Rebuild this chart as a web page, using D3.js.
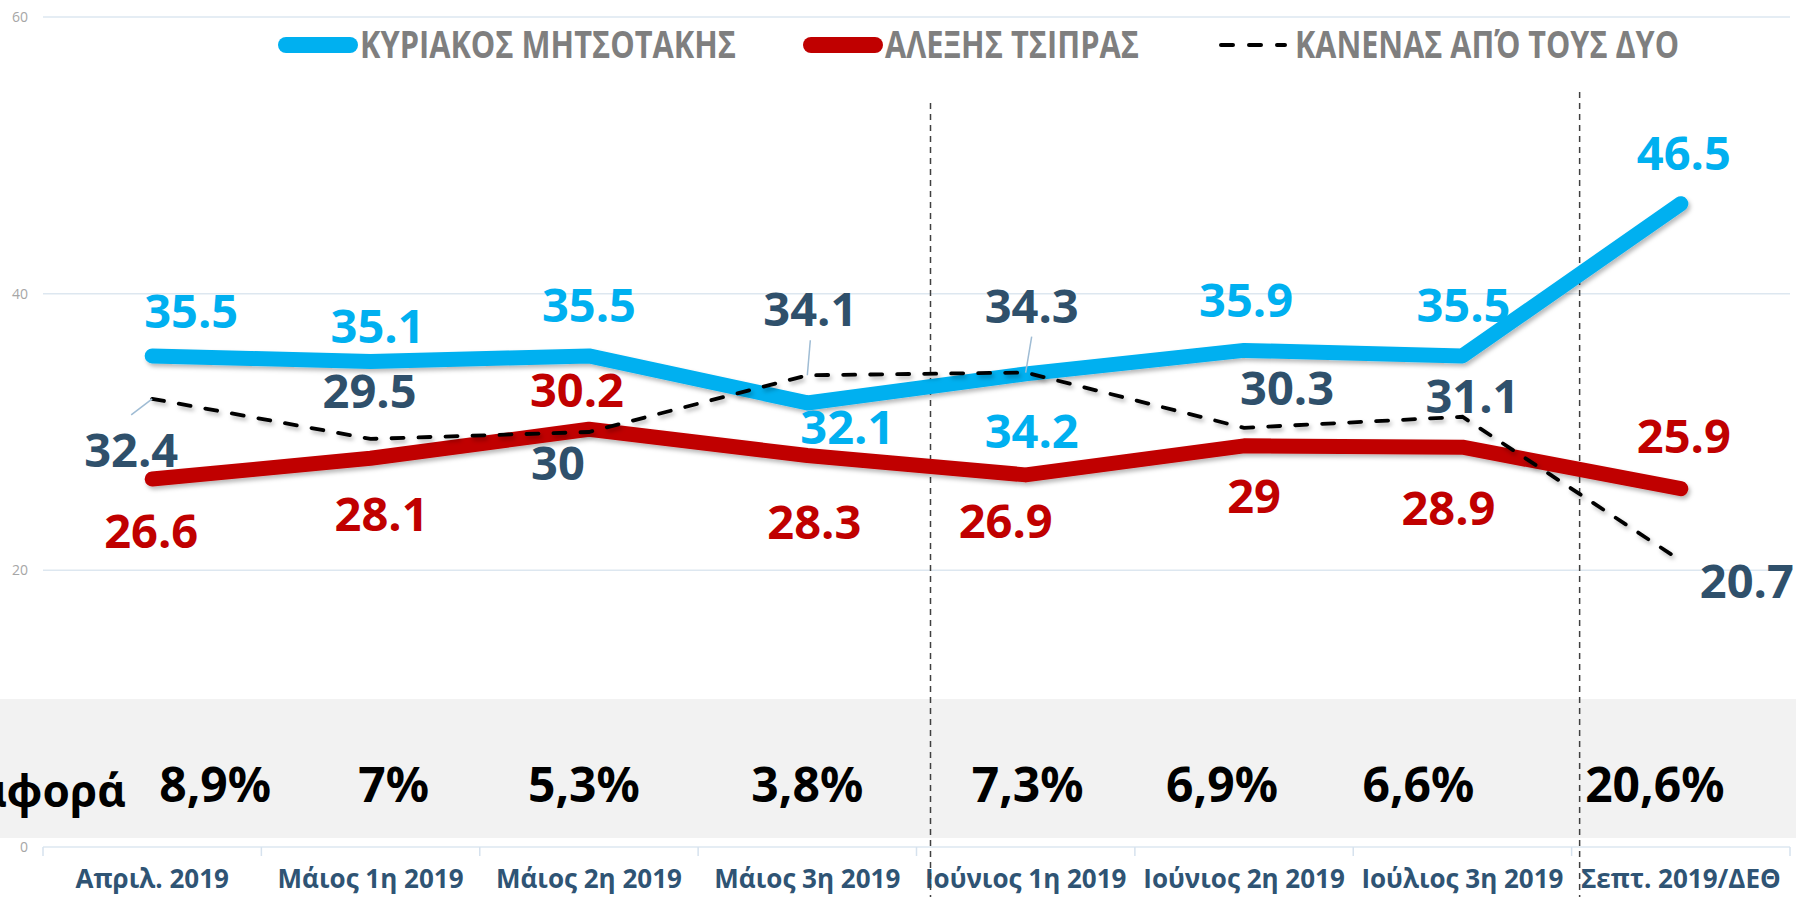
<!DOCTYPE html>
<html>
<head>
<meta charset="utf-8">
<script src="https://cdn.jsdelivr.net/npm/d3@7"></script>
<style>
    html, body { margin: 0; padding: 0; background: #fff; overflow: hidden; }
    svg { display: block; }
</style>
</head>
<body>
<div class="chart"></div>
<script>
// poll waves
const categories = ["Απριλ. 2019", "Μάιος 1η 2019", "Μάιος 2η 2019", "Μάιος 3η 2019",
    "Ιούνιος 1η 2019", "Ιούνιος 2η 2019", "Ιούλιος 3η 2019", "Σεπτ. 2019/ΔΕΘ"];

// series values
const mitsotakis = [35.5, 35.1, 35.5, 32.1, 34.2, 35.9, 35.5, 46.5];
const tsipras = [26.6, 28.1, 30.2, 28.3, 26.9, 29, 28.9, 25.9];
const neither = [32.4, 29.5, 30, 34.1, 34.3, 30.3, 31.1, 20.7];

// gap row and axis ticks
const differences = ["8,9%", "7%", "5,3%", "3,8%", "7,3%", "6,9%", "6,6%", "20,6%"];
const diffTitle = "Διαφορά";
const yTicks = [0, 20, 40, 60];
const seriesNames = ["ΚΥΡΙΑΚΟΣ ΜΗΤΣΟΤΑΚΗΣ", "ΑΛΕΞΗΣ ΤΣΙΠΡΑΣ", "ΚΑΝΕΝΑΣ ΑΠΌ ΤΟΥΣ ΔΥΟ"];
// waves after which a dotted separator is drawn
const separators = ["Ιούνιος 1η 2019", "Σεπτ. 2019/ΔΕΘ"];

// hand placed label nudges (px) like in the original
const blueOff = [[39, -28], [7, -18], [0, -34], [40, 41], [6, 74], [2, -33], [1, -34], [3, -34]];
const redOff = [[-1, 69], [11, 73], [-12, -22], [7, 83], [-20, 63], [10, 67], [-14, 78], [3, -36]];
const darkOff = [[-21, 68], [-1, -31], [-31, 48], [3, -49], [6, -50], [43, -23], [10, -4], [66, 37]];
const leaderIdx = [0, 3, 4];
const diffDx = [63, 23, -5, 0, 2, -22, -44, -26];

const W = 1796, H = 897;
const blue = "#00b0f0", red = "#c00000", dark = "#2f506b";

const svg = d3.select("div.chart")
    .append("svg")
    .attr("width", W)
    .attr("height", H);

const defs = svg.append("defs");
const shadow = defs.append("filter")
    .attr("id", "shadow")
    .attr("filterUnits", "userSpaceOnUse")
    .attr("x", 0).attr("y", 0).attr("width", W).attr("height", H);
shadow.append("feDropShadow")
    .attr("dx", 2).attr("dy", 3).attr("stdDeviation", 2)
    .attr("flood-color", "#000").attr("flood-opacity", 0.28);

// scales
const x = d3.scaleBand().domain(categories).range([43, 1790]);
const y = d3.scaleLinear().domain([0, 60]).range([847, 17]);
const cx = d => x(d) + x.bandwidth() / 2;

// gridlines
svg.selectAll("line.grid")
    .data(yTicks)
    .enter()
    .append("line")
    .attr("class", "grid")
    .attr("x1", 43).attr("x2", 1790)
    .attr("y1", d => y(d)).attr("y2", d => y(d))
    .attr("stroke", "#dde7f0")
    .attr("stroke-width", 1.5);

svg.selectAll("text.ytick")
    .data(yTicks)
    .enter()
    .append("text")
    .attr("class", "ytick")
    .attr("x", 28)
    .attr("y", d => y(d) + 5)
    .attr("text-anchor", "end")
    .attr("font-family", "Open Sans")
    .attr("font-size", "14px")
    .attr("fill", "#a6a6a6")
    .text(d => d);

// x axis ticks at band edges
const edges = categories.map(c => x(c)).concat([x.range()[1]]);
svg.selectAll("line.xtick")
    .data(edges)
    .enter()
    .append("line")
    .attr("x1", d => d).attr("x2", d => d)
    .attr("y1", y(0)).attr("y2", y(0) + 9)
    .attr("stroke", "#d6e2ee")
    .attr("stroke-width", 1.5);

svg.selectAll("text.xlab")
    .data(categories)
    .enter()
    .append("text")
    .attr("class", "xlab")
    .attr("x", d => cx(d))
    .attr("y", 888)
    .attr("text-anchor", "middle")
    .attr("font-family", "Open Sans")
    .attr("font-weight", 700)
    .attr("font-size", "26px")
    .attr("fill", "#2f5474")
    .text(d => d);

// grey difference band
svg.append("rect")
    .attr("x", 0).attr("y", 699)
    .attr("width", W).attr("height", 139)
    .attr("fill", "#f2f2f2");

svg.append("text")
    .attr("x", 126)
    .attr("y", 807)
    .attr("text-anchor", "end")
    .attr("font-family", "Noto Sans")
    .attr("font-weight", 700)
    .attr("font-size", "44px")
    .attr("fill", "#000")
    .text(diffTitle);

svg.selectAll("text.diff")
    .data(differences)
    .enter()
    .append("text")
    .attr("class", "diff")
    .attr("x", (d, i) => cx(categories[i]) + diffDx[i])
    .attr("y", 802)
    .attr("text-anchor", "middle")
    .attr("font-family", "Noto Sans")
    .attr("font-weight", 700)
    .attr("font-size", "48px")
    .attr("fill", "#000")
    .text(d => d);

// dotted separators
const sepNudge = [14, 8];
const sepTop = [103, 92];
svg.selectAll("line.sep")
    .data(separators)
    .enter()
    .append("line")
    .attr("x1", (d, i) => x(d) + sepNudge[i])
    .attr("x2", (d, i) => x(d) + sepNudge[i])
    .attr("y1", (d, i) => sepTop[i])
    .attr("y2", H)
    .attr("stroke", "#404040")
    .attr("stroke-width", 1.5)
    .attr("stroke-dasharray", "6,5");

// lines
const line = d3.line()
    .x((d, i) => cx(categories[i]))
    .y(d => y(d));

svg.append("path")
    .datum(tsipras)
    .attr("d", line)
    .attr("fill", "none")
    .attr("stroke", red)
    .attr("stroke-width", 15)
    .attr("stroke-linecap", "round")
    .attr("stroke-linejoin", "round")
    .attr("filter", "url(#shadow)");

svg.append("path")
    .datum(mitsotakis)
    .attr("d", line)
    .attr("fill", "none")
    .attr("stroke", blue)
    .attr("stroke-width", 15)
    .attr("stroke-linecap", "round")
    .attr("stroke-linejoin", "round")
    .attr("filter", "url(#shadow)");

svg.append("path")
    .datum(neither)
    .attr("d", line)
    .attr("fill", "none")
    .attr("stroke", "#000")
    .attr("stroke-width", 3.8)
    .attr("stroke-dasharray", "12,15")
    .attr("stroke-linecap", "round")
    .attr("filter", "url(#shadow)");

// leader lines for some of the grey labels
svg.selectAll("line.leader")
    .data(leaderIdx)
    .enter()
    .append("line")
    .attr("x1", i => cx(categories[i]) + darkOff[i][0])
    .attr("y1", i => y(neither[i]) + darkOff[i][1] + (darkOff[i][1] < 0 ? 14 : -52))
    .attr("x2", i => cx(categories[i]))
    .attr("y2", i => y(neither[i]))
    .attr("stroke", "#9fbcd4")
    .attr("stroke-width", 1.5);

// value labels
function addLabels(values, offs, color) {
    svg.append("g")
        .selectAll("text")
        .data(values)
        .enter()
        .append("text")
        .attr("x", (d, i) => cx(categories[i]) + offs[i][0])
        .attr("y", (d, i) => y(d) + offs[i][1])
        .attr("text-anchor", "middle")
        .attr("font-family", "Open Sans")
        .attr("font-weight", 700)
        .attr("font-size", "47px")
        .attr("fill", color)
        .text(d => d);
}
addLabels(mitsotakis, blueOff, blue);
addLabels(tsipras, redOff, red);
addLabels(neither, darkOff, dark);

// legend
const legendX = [278, 803, 1213];
const legendTextW = [376, 254, 384];
const legendY = 45;
const legend = svg.selectAll("g.legend")
    .data(seriesNames)
    .enter()
    .append("g")
    .attr("class", "legend")
    .attr("transform", (d, i) => "translate(" + legendX[i] + "," + legendY + ")");

legend.append("line")
    .attr("x1", 8).attr("x2", 72)
    .attr("y1", 0).attr("y2", 0)
    .attr("stroke", (d, i) => [blue, red, "#000"][i])
    .attr("stroke-width", (d, i) => i < 2 ? 16 : 4)
    .attr("stroke-linecap", "round")
    .attr("stroke-dasharray", (d, i) => i < 2 ? null : "12,16");

// the original uses a narrow face, squeeze ours to the same width
legend.append("text")
    .attr("x", 82)
    .attr("y", 13)
    .attr("font-family", "Open Sans")
    .attr("font-weight", 700)
    .attr("font-size", "37px")
    .attr("fill", "#7f7f7f")
    .attr("textLength", (d, i) => legendTextW[i])
    .attr("lengthAdjust", "spacingAndGlyphs")
    .text(d => d);
</script>
</body>
</html>
